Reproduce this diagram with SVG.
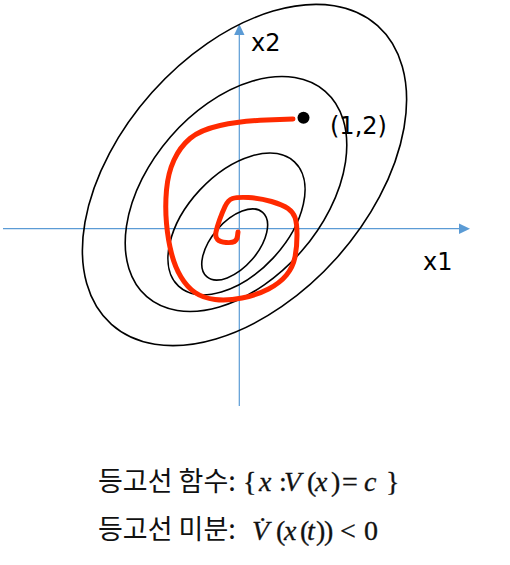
<svg xmlns="http://www.w3.org/2000/svg" width="510" height="565" viewBox="0 0 510 565">
<style>
.ax{stroke:#5B9BD5;stroke-width:1.2;fill:none}
.ah{fill:#5B9BD5}
.el{stroke:#000;stroke-width:1.6;fill:none}
.lbl{font-family:"DejaVu Sans","Liberation Sans",sans-serif;font-size:24px;fill:#000}
.kr{font-family:"Noto Sans CJK KR","Noto Sans",sans-serif;font-size:27px;fill:#111}
.m{font-family:"Liberation Serif","Times New Roman",serif;font-size:28px;fill:#111;stroke:#111;stroke-width:0.3}
.i{font-style:italic}
</style>
<rect width="510" height="565" fill="#fff"/>
<g id="axes">
<line class="ax" x1="3" y1="228.7" x2="460" y2="228.7"/>
<polygon class="ah" points="470,228.7 459,223.5 459,233.9"/>
<line class="ax" x1="239.3" y1="406" x2="239.3" y2="34"/>
<polygon class="ah" points="239.3,24 234.1,35 244.5,35"/>
</g>
<g id="contours">
<ellipse class="el" cx="244.5" cy="175" rx="200" ry="124" transform="rotate(-48.3 244.5 175)"/>
<ellipse class="el" cx="236" cy="194" rx="136" ry="87" transform="rotate(-49 236 194)"/>
<ellipse class="el" cx="236.5" cy="224" rx="85" ry="50" transform="rotate(-47 236.5 224)"/>
<ellipse class="el" cx="234.7" cy="244.5" rx="42.6" ry="23" transform="rotate(-49 234.7 244.5)"/>
</g>
<g id="trajectory">
<path d="M293,119 L266.5,120 Q240,121 220,125.5 Q200,130 190,138.5 Q180,147 174,160 Q168,173 166.5,190 Q165,207 166.5,223.5 Q168,240 171.5,253.5 Q175,267 181,277 Q187,287 195,292.5 Q203,298 215,299.5 Q227,301 242,298 Q257,295 268.5,289 Q280,283 286.5,275 Q293,267 295,257 Q297,247 297,235 Q297,223 295,217.5 Q293,212 288,208.5 Q283,205 271.5,201.5 Q260,198 248.5,197.5 Q237,197 232.5,198.5 Q228,200 225,206.5 Q222,213 219.5,220 Q217,227 216,232 Q215,237 217.5,239.5 Q220,242 226,242.5 Q232,243 234.5,241.5 Q237,240 237.5,236 L238,232" fill="none" stroke="#FF2A00" stroke-width="5" stroke-linecap="round" stroke-linejoin="round"/>
<circle cx="303.5" cy="117.7" r="6" fill="#000"/>
</g>
<g id="labels">
<text class="lbl" x="251" y="51">x2</text>
<text class="lbl" x="330" y="133.5">(1,2)</text>
<text class="lbl" x="423" y="270">x1</text>
</g>
<g id="formulas">
<text class="kr" x="98" y="491">등고선 함수:</text>
<text class="m" y="491"><tspan x="243">{</tspan><tspan class="i" x="259">x</tspan><tspan x="279">:</tspan><tspan class="i" x="284">V</tspan><tspan x="307">(</tspan><tspan class="i" x="315">x</tspan><tspan x="331">)</tspan><tspan x="342">=</tspan><tspan class="i" x="364">c</tspan><tspan x="386">}</tspan></text>
<text class="kr" x="98" y="539">등고선 미분:</text>
<text class="m" y="540"><tspan class="i" x="252">V</tspan><tspan x="258" y="535.5">˙</tspan><tspan x="276" y="540">(</tspan><tspan class="i" x="284">x</tspan><tspan x="300">(</tspan><tspan class="i" x="307">t</tspan><tspan x="316">)</tspan><tspan x="324">)</tspan><tspan x="340">&lt;</tspan><tspan x="364">0</tspan></text>
</g>
</svg>
